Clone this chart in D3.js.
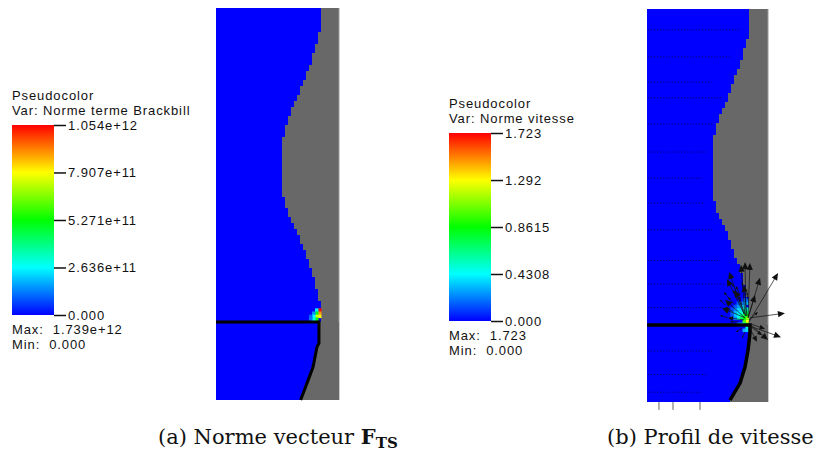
<!DOCTYPE html>
<html>
<head>
<meta charset="utf-8">
<script src="https://cdn.jsdelivr.net/npm/d3@7"></script>
<style>
  body { margin: 0; background: #fff; }
  .cb text { font-family: "Liberation Sans", Arial, sans-serif; font-size: 13px; letter-spacing: 0.9px; fill: #111; }
  .caption { font-family: "DejaVu Serif", serif; font-size: 21px; fill: #111; }
</style>
</head>
<body>
<div id="chart"></div>
<script>
// Wall profile of the tube: [v (fraction of height, from top), u (fraction of width)]
const wallProfile = [
  [0.000, 0.854], [0.064, 0.843], [0.107, 0.805], [0.150, 0.764], [0.191, 0.711],
  [0.235, 0.660], [0.278, 0.593], [0.319, 0.561], [0.344, 0.537], [0.457, 0.537],
  [0.490, 0.553], [0.533, 0.593], [0.574, 0.660], [0.617, 0.711], [0.661, 0.764],
  [0.702, 0.805], [0.745, 0.837], [0.770, 0.854], [1.000, 0.854]
];

// Interface (black line) for each panel: [u, v]
const interfaceA = [
  [0.000, 0.801], [0.837, 0.801], [0.837, 0.855], [0.821, 0.865],
  [0.789, 0.916], [0.740, 0.957], [0.688, 1.000]
];
const interfaceB = [
  [0.000, 0.804], [0.851, 0.804], [0.851, 0.824], [0.835, 0.868],
  [0.810, 0.911], [0.769, 0.952], [0.686, 0.995]
];

// Brackbill term near the contact line: [u, v, value (x1e11)]
const forceCells = [
  [0.841, 0.770, 10.5], [0.841, 0.778, 9.0], [0.841, 0.786, 8.0],
  [0.817, 0.770, 2.5], [0.817, 0.778, 5.0], [0.817, 0.786, 7.5], [0.817, 0.793, 5.5],
  [0.793, 0.778, 1.5], [0.793, 0.786, 2.6], [0.793, 0.793, 3.0],
  [0.768, 0.786, 1.0], [0.768, 0.793, 1.2]
];

// Velocity magnitude near the contact line: [u, v, speed]
const speedCells = [
  [0.826, 0.794, 1.30], [0.826, 0.786, 1.10], [0.826, 0.779, 0.90], [0.826, 0.771, 0.70], [0.826, 0.763, 0.50],
  [0.802, 0.794, 1.00], [0.802, 0.786, 0.90], [0.802, 0.779, 0.75], [0.802, 0.771, 0.60], [0.802, 0.763, 0.50], [0.802, 0.756, 0.35],
  [0.777, 0.786, 0.70], [0.777, 0.779, 0.60], [0.777, 0.771, 0.50], [0.777, 0.763, 0.40], [0.777, 0.756, 0.30],
  [0.752, 0.786, 0.50], [0.752, 0.779, 0.45], [0.752, 0.771, 0.40], [0.752, 0.763, 0.35], [0.752, 0.756, 0.25],
  [0.727, 0.779, 0.35], [0.727, 0.771, 0.30], [0.727, 0.763, 0.25], [0.702, 0.771, 0.20],
  [0.826, 0.802, 0.80], [0.802, 0.802, 0.60], [0.826, 0.809, 0.50], [0.777, 0.802, 0.40],
  [0.826, 0.748, 0.30], [0.802, 0.748, 0.25], [0.777, 0.748, 0.20], [0.752, 0.748, 0.15],
  [0.727, 0.786, 0.25], [0.702, 0.779, 0.15], [0.702, 0.763, 0.12], [0.727, 0.756, 0.15],
  [0.826, 0.740, 0.20], [0.802, 0.740, 0.15], [0.752, 0.802, 0.25], [0.802, 0.817, 0.30], [0.826, 0.817, 0.35]
];

// Velocity vectors: [u0, v0, u1, v1]
const arrows = [
  [0.843, 0.796, 1.083, 0.672], [0.851, 0.786, 1.140, 0.774], [0.851, 0.807, 1.107, 0.835],
  [0.851, 0.802, 1.000, 0.842], [0.835, 0.786, 0.934, 0.684], [0.835, 0.781, 0.851, 0.646],
  [0.818, 0.781, 0.810, 0.644], [0.810, 0.781, 0.777, 0.651], [0.802, 0.776, 0.678, 0.669],
  [0.802, 0.776, 0.661, 0.687], [0.835, 0.786, 0.893, 0.728], [0.851, 0.807, 0.950, 0.830],
  [0.810, 0.786, 0.645, 0.740], [0.810, 0.786, 0.620, 0.761], [0.818, 0.781, 0.727, 0.715],
  [0.835, 0.804, 0.909, 0.847], [0.835, 0.799, 0.975, 0.814], [0.802, 0.791, 0.669, 0.786],
  [0.826, 0.781, 0.802, 0.702], [0.843, 0.791, 0.917, 0.771],
  [0.686, 0.740, 0.636, 0.720], [0.727, 0.753, 0.669, 0.733], [0.752, 0.740, 0.711, 0.715],
  [0.769, 0.728, 0.736, 0.705], [0.711, 0.771, 0.645, 0.758], [0.669, 0.786, 0.603, 0.779],
  [0.752, 0.796, 0.686, 0.796], [0.785, 0.812, 0.736, 0.822], [0.810, 0.822, 0.785, 0.837],
  [0.645, 0.753, 0.603, 0.740], [0.785, 0.753, 0.760, 0.730], [0.736, 0.715, 0.702, 0.700],
  [0.835, 0.740, 0.826, 0.720], [0.802, 0.715, 0.785, 0.695]
];

// Rows of tiny glyphs in the bulk (panel b): [v, uEnd]
const glyphRows = [
  [0.053, 0.77], [0.122, 0.70], [0.186, 0.52], [0.226, 0.63], [0.293, 0.55],
  [0.364, 0.50], [0.430, 0.45], [0.494, 0.48], [0.562, 0.55], [0.640, 0.60],
  [0.700, 0.65], [0.760, 0.62], [0.870, 0.55], [0.930, 0.50], [0.975, 0.45]
];
const glyphCols = [0.099, 0.215, 0.438];

// Colour bars
const barA = { title: "Var: Norme terme Brackbill", max: 10.54,
  ticks: [0, 2.636, 5.271, 7.907, 10.54],
  labels: ["0.000", "2.636e+11", "5.271e+11", "7.907e+11", "1.054e+12"],
  maxText: "Max:  1.739e+12", minText: "Min:  0.000" };
const barB = { title: "Var: Norme vitesse", max: 1.723,
  ticks: [0, 0.4308, 0.8615, 1.292, 1.723],
  labels: ["0.000", "0.4308", "0.8615", "1.292", "1.723"],
  maxText: "Max:  1.723", minText: "Min:  0.000" };

const W = 817, H = 453;
const rainbowStops = ["#0000ff", "#00ffff", "#00ff00", "#ffff00", "#ff0000"];
const rainbow = d3.scaleLinear().domain([0, 0.25, 0.5, 0.75, 1]).range(rainbowStops).clamp(true);

const svg = d3.select("#chart").append("svg")
  .attr("width", W).attr("height", H);
const defs = svg.append("defs");

function drawPanel(box, iface) {
  const x = d3.scaleLinear().domain([0, 1]).range([box.x0, box.x1]);
  const y = d3.scaleLinear().domain([0, 1]).range([box.y0, box.y1]);
  const g = svg.append("g");

  g.append("rect")
    .attr("x", x(0)).attr("y", y(0))
    .attr("width", x(1) - x(0)).attr("height", y(1) - y(0))
    .attr("fill", "#686868");
  g.append("line")
    .attr("x1", x(1)).attr("x2", x(1)).attr("y1", y(0)).attr("y2", y(1))
    .attr("stroke", "#9a9a9a").attr("stroke-width", 1);

  const area = d3.area()
    .x0(x(0))
    .x1(d => x(d[1]))
    .y(d => y(d[0]))
    .curve(d3.curveStepAfter);

  // resample the profile onto 3px cells to get the blocky look
  const fine = [];
  const prof = d3.scaleLinear().domain(wallProfile.map(d => d[0])).range(wallProfile.map(d => d[1]));
  const nCells = Math.round((y(1) - y(0)) / 3);
  for (let i = 0; i <= nCells; i++) {
    const v = i / nCells;
    fine.push([v, Math.round(prof(v) * (x(1) - x(0)) / 3) * 3 / (x(1) - x(0))]);
  }
  g.append("path").datum(fine)
    .attr("d", area)
    .attr("fill", "#0000ff")
    .attr("shape-rendering", "crispEdges");

  // the other phase, right of the interface, below the contact line
  const corner = iface[1];
  const last = iface[iface.length - 1];
  const polyFill = iface.slice(1).concat([[last[0], 1], [1, 1], [1, corner[1]]]);
  g.append("path")
    .attr("d", d3.line().x(d => x(d[0])).y(d => y(d[1]))(polyFill) + "Z")
    .attr("fill", "#686868");

  return { g, x, y, iface };
}

function drawInterface(p, width) {
  const line = d3.line().x(d => p.x(d[0])).y(d => p.y(d[1]));
  p.g.append("path").datum(p.iface)
    .attr("d", line)
    .attr("fill", "none")
    .attr("stroke", "#000")
    .attr("stroke-width", width);
}

function drawCells(p, cells, maxVal) {
  const cw = 3, ch = 3;
  p.g.selectAll(null).data(cells).enter().append("rect")
    .attr("x", d => p.x(d[0]) - cw / 2)
    .attr("y", d => p.y(d[1]) - ch / 2)
    .attr("width", cw + 0.5).attr("height", ch + 0.5)
    .attr("fill", d => rainbow(d[2] / maxVal));
}

function drawColorBar(cfg, left, top, bottom, id) {
  const g = svg.append("g").attr("class", "cb");
  const barW = 42;
  const grad = defs.append("linearGradient").attr("id", id)
    .attr("x1", 0).attr("y1", 1).attr("x2", 0).attr("y2", 0);
  rainbowStops.forEach((c, i) => grad.append("stop")
    .attr("offset", i / (rainbowStops.length - 1)).attr("stop-color", c));

  g.append("text").attr("x", left).attr("y", top - 25).text("Pseudocolor");
  g.append("text").attr("x", left).attr("y", top - 10).text(cfg.title);

  g.append("rect").attr("x", left).attr("y", top)
    .attr("width", barW).attr("height", bottom - top)
    .attr("fill", "url(#" + id + ")");

  const s = d3.scaleLinear().domain([0, cfg.max]).range([bottom, top]);
  const axis = d3.axisRight(s)
    .tickValues(cfg.ticks)
    .tickSize(12).tickPadding(2)
    .tickFormat((d, i) => cfg.labels[i]);
  const ax = g.append("g").attr("transform", "translate(" + (left + barW) + ",0)").call(axis);
  ax.select(".domain").remove();
  ax.selectAll(".tick line").attr("stroke", "#111").attr("stroke-width", 1.5);
  ax.selectAll(".tick text")
    .attr("fill", "#111")
    .style("font-family", "'Liberation Sans', Arial, sans-serif")
    .style("font-size", "13px");

  g.append("text").attr("x", left).attr("y", bottom + 19).text(cfg.maxText).attr("xml:space", "preserve");
  g.append("text").attr("x", left).attr("y", bottom + 34).text(cfg.minText).attr("xml:space", "preserve");
}

// ---------- panel (a) ----------
const pA = drawPanel({ x0: 216, x1: 339, y0: 8, y1: 400 }, interfaceA);
drawCells(pA, forceCells, barA.max);
drawInterface(pA, 3);
drawColorBar(barA, 12, 125, 315, "gradA");

// ---------- panel (b) ----------
const pB = drawPanel({ x0: 647, x1: 768, y0: 9, y1: 402 }, interfaceB);

// tiny glyph rows in the bulk, and a few glyphs poking out of the bottom
pB.g.selectAll(null).data(glyphRows).enter().append("line")
  .attr("x1", pB.x(0.01)).attr("x2", d => pB.x(d[1]))
  .attr("y1", d => pB.y(d[0])).attr("y2", d => pB.y(d[0]))
  .attr("stroke", "#000040").attr("stroke-width", 1)
  .attr("stroke-dasharray", "1,2").attr("opacity", 0.9);
pB.g.selectAll(null).data(glyphCols).enter().append("line")
  .attr("x1", d => pB.x(d)).attr("x2", d => pB.x(d))
  .attr("y1", pB.y(1)).attr("y2", pB.y(1.02))
  .attr("stroke", "#666").attr("stroke-width", 1);

drawCells(pB, speedCells, barB.max);
drawInterface(pB, 3.5);
drawColorBar(barB, 449, 133, 321, "gradB");

// arrows
const ag = pB.g.append("g");
arrows.forEach(a => {
  const x0 = pB.x(a[0]), y0 = pB.y(a[1]), x1 = pB.x(a[2]), y1 = pB.y(a[3]);
  const len = Math.hypot(x1 - x0, y1 - y0);
  const hl = Math.min(7, len * 0.3), hw = hl * 0.45;
  const ux = (x1 - x0) / len, uy = (y1 - y0) / len;
  ag.append("line").attr("x1", x0).attr("y1", y0).attr("x2", x1 - ux * hl * 0.5).attr("y2", y1 - uy * hl * 0.5)
    .attr("stroke", "#111").attr("stroke-width", 0.7);
  const bx = x1 - ux * hl, by = y1 - uy * hl;
  ag.append("path")
    .attr("d", d3.line()([[x1, y1], [bx - uy * hw, by + ux * hw], [bx + uy * hw, by - ux * hw]]) + "Z")
    .attr("fill", "#111");
});

// captions
const capA = svg.append("text").attr("class", "caption").attr("x", 158).attr("y", 444);
capA.append("tspan").text("(a) Norme vecteur ");
capA.append("tspan").attr("font-weight", "bold").text("F");
capA.append("tspan").attr("font-weight", "bold").attr("font-size", "15px").attr("dy", 4).text("TS");

svg.append("text").attr("class", "caption").attr("x", 607).attr("y", 444)
  .text("(b) Profil de vitesse");
</script>
</body>
</html>
